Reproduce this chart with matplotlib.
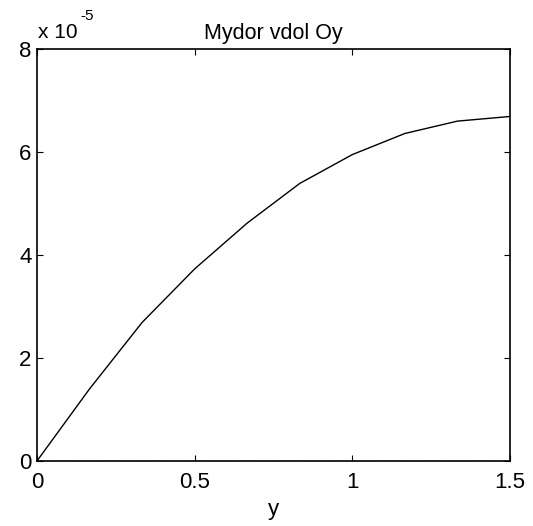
import matplotlib
matplotlib.use("Agg")
import matplotlib.pyplot as plt
from matplotlib.ticker import FuncFormatter

plt.rcParams['font.family'] = ['Liberation Sans', 'DejaVu Sans']

# Deflection along Oy (units of 1e-5)
y_pos = [0.0, 1/6, 2/6, 3/6, 4/6, 5/6, 1.0, 7/6, 8/6, 1.5]
deflection = [0.0, 1.40, 2.69, 3.73, 4.62, 5.39, 5.95, 6.36, 6.60, 6.69]
scale_exp = -5

x_ticks = [0, 0.5, 1, 1.5]
y_ticks = [0, 2, 4, 6, 8]

fig = plt.figure(figsize=(5.33, 5.26), dpi=100)
ax = fig.add_axes([0.0694, 0.1236, 0.8874, 0.7832])

vals = [v * 10.0 ** scale_exp for v in deflection]
ax.plot(y_pos, [0.0] * len(y_pos), color='black', linestyle=':', linewidth=1.0)
ax.plot(y_pos, vals, color='black', linewidth=1.0)

ax.set_xlim(0, 1.5)
ax.set_ylim(0, 8 * 10.0 ** scale_exp)
ax.set_xticks(x_ticks)
ax.set_yticks([t * 10.0 ** scale_exp for t in y_ticks])
ax.xaxis.set_major_formatter(FuncFormatter(lambda v, p: f"{v:g}"))
ax.yaxis.set_major_formatter(FuncFormatter(lambda v, p: f"{v / 10.0 ** scale_exp:.0f}"))
ax.tick_params(direction='in', length=4, width=0.8, top=True, right=True,
               labelsize=16)
ax.tick_params(axis='x', pad=8)
ax.tick_params(axis='y', pad=4)
for s in ax.spines.values():
    s.set_linewidth(1.2)

ax.set_title("Mydor vdol Oy", fontsize=15.5, pad=7)
ax.set_xlabel("y", fontsize=16, labelpad=4)

# exponent multiplier above the y axis
fig.text(38 / 533, 1 - 33 / 526, "x 10", fontsize=15, ha='left', va='center')
fig.text(80 / 533, 1 - 16 / 526, f"{scale_exp}", fontsize=11, ha='left', va='center')

fig.savefig("out.png", dpi=100)
